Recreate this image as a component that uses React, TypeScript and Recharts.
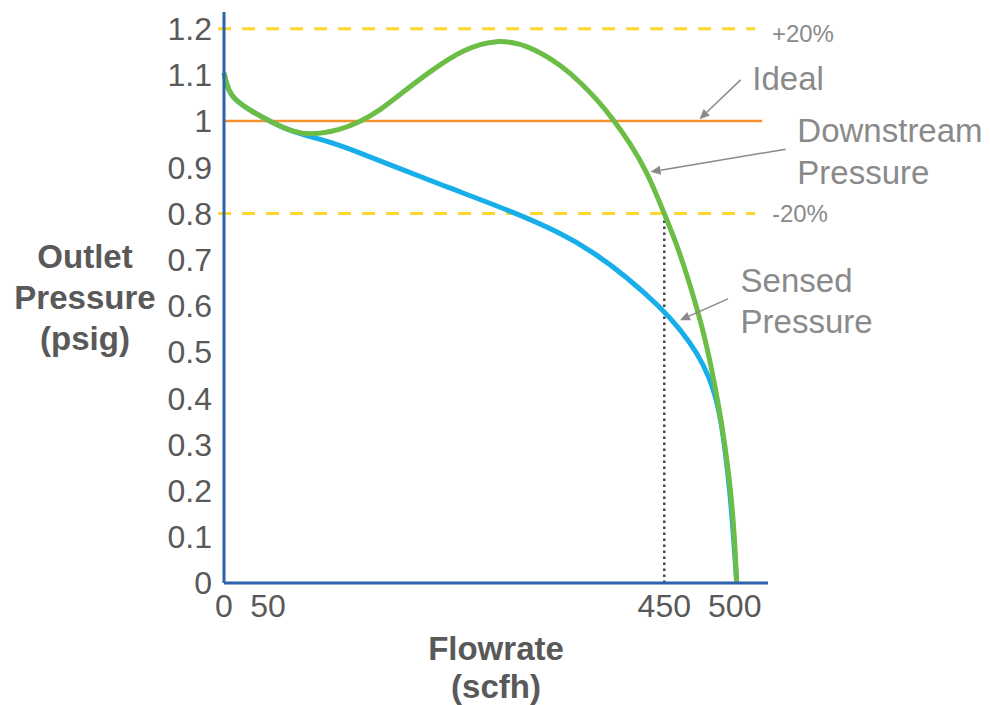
import { LineChart, Line, XAxis, YAxis, ReferenceLine, ReferenceDot, Label } from 'recharts'

// x is drawn on a schematic flow scale (the original axis is not to scale)
const X_TICKS = [0, 45, 450, 522]
const X_TICK_LABELS = ['0', '50', '450', '500']
const Y_TICKS = [0, 0.1, 0.2, 0.3, 0.4, 0.5, 0.6, 0.7, 0.8, 0.9, 1, 1.1, 1.2]
const Y_TICK_LABELS = ['0', '0.1', '0.2', '0.3', '0.4', '0.5', '0.6', '0.7', '0.8', '0.9', '1', '1.1', '1.2']

const DOWN_X = [0, 2, 5, 10, 27, 50, 71, 91, 119, 139, 160, 180, 211, 244, 279, 313, 347, 364, 382, 399, 415, 432, 450, 462, 474, 489, 498, 506, 512, 518, 522, 524]
const DOWN_Y = [1.104, 1.085, 1.066, 1.048, 1.022, 0.996, 0.976, 0.97, 0.981, 0.998, 1.024, 1.058, 1.108, 1.155, 1.178, 1.163, 1.117, 1.084, 1.045, 1.0, 0.952, 0.892, 0.8, 0.737, 0.662, 0.554, 0.468, 0.38, 0.298, 0.201, 0.093, 0]

const SENSED_X = [0, 2, 5, 10, 27, 50, 71, 91, 112, 132, 160, 228, 296, 344, 377, 412, 446, 466, 484, 496, 503, 508, 512, 517, 521, 524]
const SENSED_Y = [1.104, 1.085, 1.066, 1.048, 1.022, 0.996, 0.976, 0.965, 0.952, 0.937, 0.913, 0.857, 0.803, 0.758, 0.717, 0.662, 0.597, 0.55, 0.497, 0.445, 0.4, 0.35, 0.29, 0.201, 0.093, 0]

const IDEAL_X = [0, 550]
const IDEAL_Y = [1, 1]

const BAND_HIGH = 1.2
const BAND_LOW = 0.8
const BAND_END = 543
const CUTOFF_FLOW = 450

const downstream = DOWN_X.map((x, i) => ({ x, y: DOWN_Y[i] }))
const sensed = SENSED_X.map((x, i) => ({ x, y: SENSED_Y[i] }))
const ideal = IDEAL_X.map((x, i) => ({ x, y: IDEAL_Y[i] }))

const FONT = '"Liberation Sans", Arial, sans-serif'
const AXIS_BLUE = '#2d63ae'
const LABEL_GRAY = '#595959'
const NOTE_GRAY = '#8a8a8a'

const Note = ({ lines, size = 33, gap = 42 }: { lines: string[]; size?: number; gap?: number }) => (props: any) => (
  <text x={props.cx} y={props.cy} fill={NOTE_GRAY} fontSize={size} fontFamily={FONT}>
    {lines.map((l, i) => (
      <tspan key={i} x={props.cx} dy={i === 0 ? size * 0.35 : gap}>{l}</tspan>
    ))}
  </text>
)

const Arrow = (props: any) => {
  const { x1, y1, x2, y2 } = props
  const a = Math.atan2(y2 - y1, x2 - x1)
  const L = 10, W = 4.5
  const bx = x2 - L * Math.cos(a), by = y2 - L * Math.sin(a)
  const p1 = `${bx + W * Math.sin(a)},${by - W * Math.cos(a)}`
  const p2 = `${bx - W * Math.sin(a)},${by + W * Math.cos(a)}`
  return (
    <g>
      <line x1={x1} y1={y1} x2={bx} y2={by} stroke={NOTE_GRAY} strokeWidth={1.5} />
      <polygon points={`${x2},${y2} ${p1} ${p2}`} fill={NOTE_GRAY} />
    </g>
  )
}

export default function App() {
  return (
    <div style={{ position: 'absolute', left: 0, top: 0, background: '#fff' }}>
      <LineChart width={990} height={705} margin={{ top: 12, right: 222, bottom: 0, left: 0 }}>
        <XAxis
          type="number"
          dataKey="x"
          domain={[0, 556]}
          ticks={X_TICKS}
          tickFormatter={(v: number) => X_TICK_LABELS[X_TICKS.indexOf(v)]}
          tickLine={false}
          tickSize={0}
          tickMargin={11}
          height={122}
          axisLine={{ stroke: AXIS_BLUE, strokeWidth: 3 }}
          tick={{ fill: LABEL_GRAY, fontSize: 32, fontFamily: FONT }}
        >
          <Label
            content={(p: any) => {
              const cx = p.viewBox.x + p.viewBox.width / 2
              const y0 = p.viewBox.y
              return (
                <text textAnchor="middle" fill={LABEL_GRAY} fontSize={33} fontWeight="bold" fontFamily={FONT}>
                  <tspan x={cx} y={y0 + 77}>Flowrate</tspan>
                  <tspan x={cx} y={y0 + 115}>(scfh)</tspan>
                </text>
              )
            }}
          />
        </XAxis>
        <YAxis
          type="number"
          domain={[0, 1.236]}
          ticks={Y_TICKS}
          tickFormatter={(v: number) => Y_TICK_LABELS[Y_TICKS.indexOf(v)]}
          tickLine={false}
          tickSize={0}
          tickMargin={12}
          width={224}
          axisLine={{ stroke: AXIS_BLUE, strokeWidth: 3 }}
          tick={{ fill: LABEL_GRAY, fontSize: 32, fontFamily: FONT }}
        >
          <Label
            content={(p: any) => {
              const mid = p.viewBox.y + p.viewBox.height / 2
              return (
                <text textAnchor="middle" fill={LABEL_GRAY} fontSize={33} fontWeight="bold" fontFamily={FONT}>
                  <tspan x={85} y={mid - 30}>Outlet</tspan>
                  <tspan x={85} y={mid + 11}>Pressure</tspan>
                  <tspan x={85} y={mid + 52}>(psig)</tspan>
                </text>
              )
            }}
          />
        </YAxis>

        <ReferenceLine
          segment={[{ x: -6, y: BAND_HIGH }, { x: BAND_END, y: BAND_HIGH }]}
          stroke="#fdd72e" strokeWidth={3} strokeDasharray="13 11" ifOverflow="visible"
        />
        <ReferenceLine
          segment={[{ x: -6, y: BAND_LOW }, { x: BAND_END, y: BAND_LOW }]}
          stroke="#fdd72e" strokeWidth={3} strokeDasharray="13 11" ifOverflow="visible"
        />
        <ReferenceLine
          segment={[{ x: CUTOFF_FLOW, y: 0 }, { x: CUTOFF_FLOW, y: BAND_LOW }]}
          stroke="#444" strokeWidth={2.5} strokeDasharray="2.5 3.5" ifOverflow="visible"
        />

        <Line data={ideal} dataKey="y" type="linear" stroke="#f5922f" strokeWidth={2.5} dot={false} isAnimationActive={false} />
        <Line data={sensed} dataKey="y" type="basis" stroke="#18aee9" strokeWidth={5} dot={false} isAnimationActive={false} />
        <Line data={downstream} dataKey="y" type="basis" stroke="#6cbd45" strokeWidth={5} dot={false} isAnimationActive={false} />

        <ReferenceLine segment={[{ x: 528, y: 1.089 }, { x: 486, y: 1.004 }]} shape={Arrow} ifOverflow="visible" />
        <ReferenceLine segment={[{ x: 574, y: 0.939 }, { x: 436, y: 0.89 }]} shape={Arrow} ifOverflow="visible" />
        <ReferenceLine segment={[{ x: 515, y: 0.615 }, { x: 466, y: 0.569 }]} shape={Arrow} ifOverflow="visible" />

        <ReferenceDot x={560} y={1.19} r={0} ifOverflow="visible" shape={Note({ lines: ['+20%'], size: 24 })} />
        <ReferenceDot x={560} y={0.8} r={0} ifOverflow="visible" shape={Note({ lines: ['-20%'], size: 24 })} />
        <ReferenceDot x={540} y={1.093} r={0} ifOverflow="visible" shape={Note({ lines: ['Ideal'] })} />
        <ReferenceDot x={586} y={0.98} r={0} ifOverflow="visible" shape={Note({ lines: ['Downstream', 'Pressure'] })} />
        <ReferenceDot x={528} y={0.654} r={0} ifOverflow="visible" shape={Note({ lines: ['Sensed', 'Pressure'], gap: 41 })} />
      </LineChart>
    </div>
  )
}
